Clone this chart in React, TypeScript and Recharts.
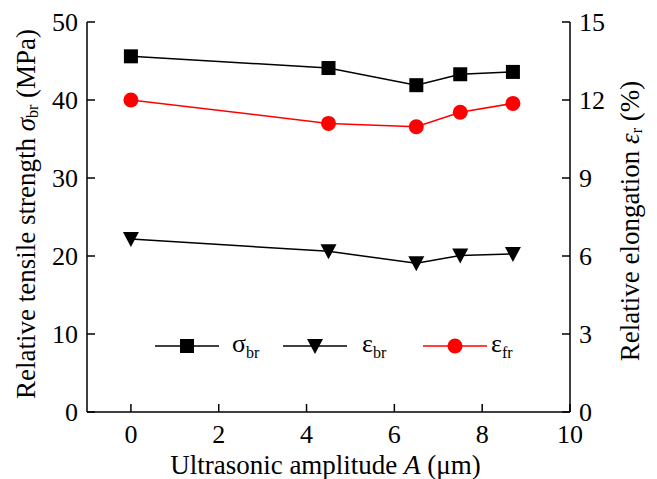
import React from "react";
import {
  LineChart,
  Line,
  XAxis,
  YAxis,
  Legend,
} from "recharts";

const amplitude = [0, 4.5, 6.5, 7.5, 8.7];
const sigmaBr = [45.6, 44.1, 41.9, 43.3, 43.6];
const epsBr = [6.65, 6.18, 5.72, 6.02, 6.08];
const epsFr = [12.0, 11.1, 10.97, 11.53, 11.87];

const xTicks = [0, 2, 4, 6, 8, 10];
const leftTicks = [0, 10, 20, 30, 40, 50];
const rightTicks = [0, 3, 6, 9, 12, 15];

const data = amplitude.map((a, i) => ({
  a,
  sigmaBr: sigmaBr[i],
  epsBr: epsBr[i],
  epsFr: epsFr[i],
}));

const FONT = "'Liberation Serif', 'Times New Roman', serif";
const tickStyle = { fontSize: 26, fill: "#000", fontFamily: FONT };

function SquareDot(props: any) {
  const { cx, cy } = props;
  return <rect x={cx - 7} y={cy - 7} width={14} height={14} fill="#000" />;
}

function TriangleDot(props: any) {
  const { cx, cy } = props;
  return (
    <path
      d={`M${cx - 8},${cy - 7} L${cx + 8},${cy - 7} L${cx},${cy + 8} Z`}
      fill="#000"
    />
  );
}

function CircleDot(props: any) {
  const { cx, cy } = props;
  return <circle cx={cx} cy={cy} r={7.5} fill="#ff0000" />;
}

// legend: line + marker, then label; left offsets
const legendItems = [
  { kind: "square", color: "#000", sym: "σ", sub: "br", left: 0, textLeft: 77 },
  { kind: "triangle", color: "#000", sym: "ε", sub: "br", left: 128, textLeft: 207 },
  { kind: "circle", color: "#ff0000", sym: "ε", sub: "fr", left: 268, textLeft: 336 },
];

function LegendMark({ kind, color }: { kind: string; color: string }) {
  return (
    <svg width={64} height={20} style={{ display: "block" }}>
      <line x1={0} y1={10} x2={64} y2={10} stroke={color} strokeWidth={1.5} />
      {kind === "square" && <rect x={25} y={3} width={14} height={14} fill={color} />}
      {kind === "triangle" && <path d="M24,3 L40,3 L32,18 Z" fill={color} />}
      {kind === "circle" && <circle cx={32} cy={10} r={7.5} fill={color} />}
    </svg>
  );
}

function ChartLegend() {
  return (
    <div style={{ position: "relative", width: 400, height: 30, fontFamily: FONT, fontSize: 26 }}>
      {legendItems.map((it) => (
        <React.Fragment key={it.kind}>
          <div style={{ position: "absolute", left: it.left, top: 3 }}>
            <LegendMark kind={it.kind} color={it.color} />
          </div>
          <div style={{ position: "absolute", left: it.textLeft, top: -4, lineHeight: "30px" }}>
            {it.sym}
            <sub style={{ fontSize: 16 }}>{it.sub}</sub>
          </div>
        </React.Fragment>
      ))}
    </div>
  );
}

function LeftLabel(props: any) {
  const { viewBox } = props;
  const x = viewBox.x + 26;
  const y = viewBox.y + viewBox.height / 2 - 3;
  return (
    <text
      transform={`translate(${x},${y}) rotate(-90)`}
      textAnchor="middle"
      dominantBaseline="central"
      fontFamily={FONT}
      fontSize={27}
      fill="#000"
    >
      Relative tensile strength <tspan fontStyle="italic">σ</tspan>
      <tspan fontSize={16} dy={6}>br</tspan>
      <tspan dy={-6}> (MPa)</tspan>
    </text>
  );
}

function RightLabel(props: any) {
  const { viewBox } = props;
  const x = viewBox.x + 60;
  const y = viewBox.y + viewBox.height / 2 + 4;
  return (
    <text
      transform={`translate(${x},${y}) rotate(-90)`}
      textAnchor="middle"
      dominantBaseline="central"
      fontFamily={FONT}
      fontSize={27}
      fill="#000"
    >
      Relative elongation <tspan fontStyle="italic">ε</tspan>
      <tspan fontSize={16} dy={6}>r</tspan>
      <tspan dy={-6}> (%)</tspan>
    </text>
  );
}

function BottomLabel(props: any) {
  const { viewBox } = props;
  const x = viewBox.x + viewBox.width / 2 - 3;
  const y = viewBox.y + 62;
  return (
    <text x={x} y={y} textAnchor="middle" fontFamily={FONT} fontSize={27} fill="#000">
      Ultrasonic amplitude <tspan fontStyle="italic">A</tspan> (μm)
    </text>
  );
}

export default function App() {
  return (
    <div style={{ position: "absolute", left: 0, top: 0, background: "#fff" }}>
      <LineChart
        width={657}
        height={479}
        data={data}
        margin={{ top: 22, right: 0, bottom: 0, left: 0 }}
      >
        <XAxis
          dataKey="a"
          type="number"
          domain={[-1, 10]}
          ticks={xTicks}
          height={67}
          tickSize={-8}
          tickMargin={21}
          tick={tickStyle}
          stroke="#000"
          strokeWidth={1.5}
          label={<BottomLabel />}
        />
        <XAxis
          xAxisId="top"
          dataKey="a"
          type="number"
          orientation="top"
          domain={[-1, 10]}
          height={0}
          tick={false}
          tickLine={false}
          stroke="#000"
          strokeWidth={1.5}
        />
        <YAxis
          yAxisId="left"
          domain={[0, 50]}
          ticks={leftTicks}
          width={87}
          tickSize={-8}
          tickMargin={17}
          tick={tickStyle}
          stroke="#000"
          strokeWidth={1.5}
          label={<LeftLabel />}
        />
        <YAxis
          yAxisId="right"
          orientation="right"
          domain={[0, 15]}
          ticks={rightTicks}
          width={87}
          tickSize={-8}
          tickMargin={17}
          tick={tickStyle}
          stroke="#000"
          strokeWidth={1.5}
          label={<RightLabel />}
        />
        <Legend
          layout="horizontal"
          verticalAlign="middle"
          align="center"
          wrapperStyle={{ left: 155, top: 333, width: 400 }}
          content={() => <ChartLegend />}
        />
        <Line
          yAxisId="left"
          dataKey="sigmaBr"
          stroke="#000"
          strokeWidth={1.5}
          dot={<SquareDot />}
          isAnimationActive={false}
        />
        <Line
          yAxisId="right"
          dataKey="epsBr"
          stroke="#000"
          strokeWidth={1.5}
          dot={<TriangleDot />}
          isAnimationActive={false}
        />
        <Line
          yAxisId="right"
          dataKey="epsFr"
          stroke="#ff0000"
          strokeWidth={1.5}
          dot={<CircleDot />}
          isAnimationActive={false}
        />
      </LineChart>
    </div>
  );
}
